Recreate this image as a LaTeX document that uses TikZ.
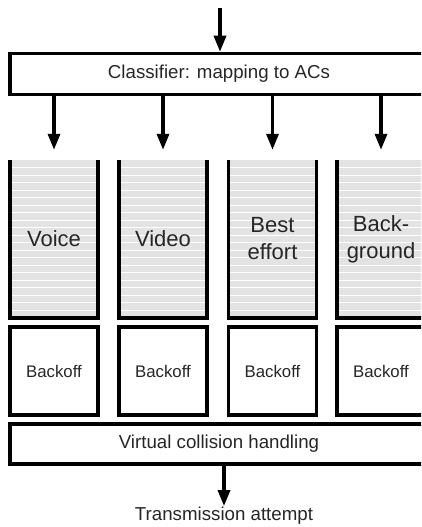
\documentclass[tikz,border=0pt]{standalone}
\usepackage{fontspec}
\setmainfont{Liberation Sans}
\usetikzlibrary{arrows.meta}
\begin{document}
\begin{tikzpicture}[x=1pt,y=-1pt,
  bline/.style={line width=3.5pt},
  arr/.style={line width=3.3pt,-{Triangle[width=12pt,length=16pt]}},
  bigbox/.style={draw,line width=3.5pt,minimum height=41pt,inner sep=0pt,
    font=\fontsize{18.7}{22}\selectfont,text=black!85},
  queue/.style={minimum width=88pt,minimum height=158pt,inner sep=0pt,
    fill=black!11,align=center,font=\fontsize{22}{27}\selectfont,text=black!85,
    path picture={\foreach \k in {1,...,21}
      \draw[white,line width=0.9pt]
        ([yshift=-\k*7.5pt]path picture bounding box.north west) --
        ([yshift=-\k*7.5pt]path picture bounding box.north east);}},
  backoff/.style={draw,line width=3.5pt,minimum width=88pt,minimum height=88pt,
    inner sep=0pt,font=\fontsize{16.8}{20}\selectfont,text=black!85},
  lbl/.style={inner sep=1pt,font=\fontsize{18.7}{22}\selectfont,text=black!85}]
\useasboundingbox (0,0) rectangle (421,527);
\clip (0,0) rectangle (421,527);

\coordinate (in) at (220,8);
\node[bigbox,minimum width=418pt] (cls) at (219,74) {Classifier: mapping to ACs};

\node[queue] (q1) at (54,239) {Voice};
\node[queue] (q2) at (163,239) {Video};
\node[queue] (q3) at (272.5,239) {Best\\effort};
\node[queue] (q4) at (381,239) {Back-\\ground};

\foreach \q in {q1,q2,q3,q4}{
  \draw[bline] (\q.north west) -- (\q.south west) -- (\q.south east) -- (\q.north east);
}

\node[backoff] (b1) at (54,371) {Backoff};
\node[backoff] (b2) at (163,371) {Backoff};
\node[backoff] (b3) at (272.5,371) {Backoff};
\node[backoff] (b4) at (381,371) {Backoff};

\node[bigbox,minimum width=418pt,minimum height=40pt] (vch) at (219,444) {Virtual collision handling};
\node[lbl] (ta) at (224,516) {Transmission attempt};

\draw[arr] (in) -- (in |- cls.north);
\foreach \q in {q1,q2,q3,q4}{
  \draw[arr,shorten >=10pt] (\q.north |- cls.south) -- (\q.north);
}
\draw[arr] (ta.north |- vch.south) -- (ta.north);
\end{tikzpicture}
\end{document}
